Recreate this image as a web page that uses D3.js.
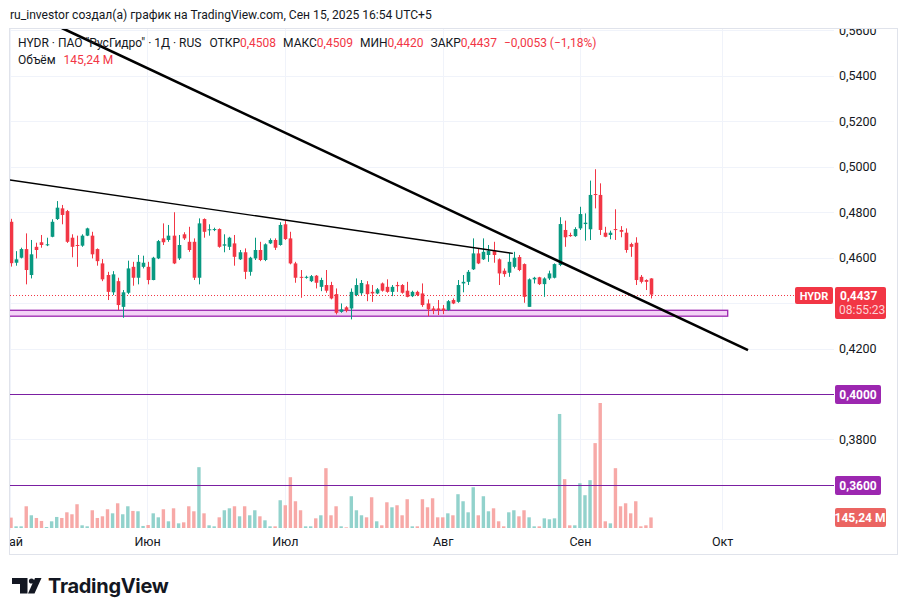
<!DOCTYPE html>
<html lang="ru">
<head>
<meta charset="UTF-8">
<title>HYDR · 1Д</title>
<script src="https://cdn.jsdelivr.net/npm/d3@7"></script>
<style>
    body { margin: 0; background: #fff; }
    svg text { font-family: Roboto, "Noto Sans", sans-serif; fill: #131722; }
</style>
</head>
<body>
<div id="chart"></div>
<script>
    // daily bars (oldest first)
    var opens = [0.4757,0.4577,0.4599,0.4637,0.4523,0.4647,0.4667,0.4657,0.4691,0.4769,
        0.4816,0.4804,0.4687,0.4655,0.4652,0.4696,0.4696,0.4637,0.4574,0.4523,
        0.4447,0.4496,0.4383,0.4445,0.4559,0.4511,0.4559,0.4559,0.4501,0.4596,
        0.4684,0.4677,0.4696,0.4596,0.4702,0.4669,0.4669,0.4511,0.4769,0.4723,
        0.4723,0.4725,0.4652,0.4647,0.4662,0.4592,0.4623,0.4537,0.4596,0.4633,
        0.4589,0.4662,0.4677,0.4655,0.4746,0.4684,0.4574,0.4515,0.4511,0.4496,
        0.4520,0.4471,0.4479,0.4479,0.4439,0.4361,0.4381,0.4376,0.4435,0.4443,
        0.4482,0.4449,0.4442,0.4486,0.4471,0.4449,0.4479,0.4479,0.4454,0.4430,
        0.4449,0.4442,0.4398,0.4376,0.4376,0.4376,0.4369,0.4413,0.4405,0.4486,
        0.4493,0.4548,0.4618,0.4592,0.4611,0.4630,0.4592,0.4542,0.4533,0.4559,
        0.4602,0.4571,0.4383,0.4504,0.4513,0.4483,0.4508,0.4511,0.4567,0.4721,
        0.4699,0.4694,0.4728,0.4747,0.4724,0.4879,0.4875,0.4709,0.4699,0.4725,
        0.4721,0.4709,0.4659,0.4665,0.4515,0.4501,0.4508];
    var highs = [0.4770,0.4628,0.4643,0.4706,0.4677,0.4665,0.4699,0.4687,0.4768,0.4848,
        0.4831,0.4809,0.4702,0.4696,0.4702,0.4731,0.4713,0.4640,0.4593,0.4537,
        0.4540,0.4511,0.4457,0.4586,0.4581,0.4611,0.4608,0.4581,0.4603,0.4677,
        0.4750,0.4743,0.4799,0.4699,0.4711,0.4735,0.4684,0.4772,0.4772,0.4746,
        0.4731,0.4728,0.4702,0.4691,0.4699,0.4633,0.4640,0.4603,0.4687,0.4669,
        0.4662,0.4684,0.4684,0.4755,0.4762,0.4713,0.4581,0.4545,0.4520,0.4523,
        0.4523,0.4511,0.4545,0.4493,0.4464,0.4398,0.4386,0.4464,0.4508,0.4501,
        0.4496,0.4479,0.4466,0.4490,0.4504,0.4479,0.4493,0.4483,0.4493,0.4454,
        0.4454,0.4486,0.4416,0.4386,0.4413,0.4391,0.4413,0.4420,0.4501,0.4523,
        0.4545,0.4684,0.4640,0.4684,0.4655,0.4669,0.4596,0.4552,0.4621,0.4625,
        0.4611,0.4574,0.4508,0.4515,0.4515,0.4513,0.4542,0.4574,0.4777,0.4762,
        0.4709,0.4733,0.4823,0.4794,0.4938,0.4988,0.4926,0.4735,0.4718,0.4812,
        0.4738,0.4728,0.4665,0.4689,0.4523,0.4504,0.4509];
    var lows = [0.4560,0.4564,0.4596,0.4482,0.4508,0.4596,0.4643,0.4650,0.4689,0.4765,
        0.4746,0.4664,0.4601,0.4559,0.4647,0.4694,0.4596,0.4564,0.4496,0.4413,
        0.4435,0.4369,0.4335,0.4439,0.4476,0.4482,0.4552,0.4482,0.4500,0.4593,
        0.4655,0.4669,0.4571,0.4589,0.4677,0.4625,0.4501,0.4482,0.4687,0.4696,
        0.4716,0.4643,0.4623,0.4633,0.4564,0.4589,0.4505,0.4520,0.4589,0.4584,
        0.4584,0.4659,0.4633,0.4652,0.4677,0.4570,0.4489,0.4423,0.4507,0.4492,
        0.4464,0.4452,0.4445,0.4416,0.4350,0.4357,0.4359,0.4328,0.4430,0.4435,
        0.4408,0.4405,0.4439,0.4450,0.4445,0.4430,0.4449,0.4441,0.4425,0.4426,
        0.4430,0.4383,0.4342,0.4351,0.4347,0.4351,0.4366,0.4395,0.4401,0.4447,
        0.4479,0.4545,0.4571,0.4589,0.4581,0.4577,0.4479,0.4515,0.4515,0.4552,
        0.4540,0.4401,0.4383,0.4486,0.4479,0.4427,0.4501,0.4508,0.4562,0.4647,
        0.4691,0.4691,0.4721,0.4674,0.4677,0.4816,0.4699,0.4689,0.4680,0.4677,
        0.4689,0.4621,0.4603,0.4479,0.4486,0.4457,0.4420];
    var closes = [0.4575,0.4592,0.4637,0.4545,0.4614,0.4633,0.4655,0.4658,0.4757,0.4819,
        0.4787,0.4669,0.4647,0.4652,0.4696,0.4728,0.4614,0.4584,0.4504,0.4449,
        0.4526,0.4391,0.4447,0.4552,0.4511,0.4581,0.4577,0.4501,0.4599,0.4672,
        0.4667,0.4696,0.4574,0.4655,0.4684,0.4633,0.4511,0.4750,0.4713,0.4724,
        0.4725,0.4647,0.4658,0.4687,0.4603,0.4623,0.4537,0.4599,0.4633,0.4589,
        0.4658,0.4677,0.4643,0.4743,0.4681,0.4574,0.4511,0.4511,0.4515,0.4518,
        0.4489,0.4501,0.4454,0.4420,0.4357,0.4372,0.4366,0.4449,0.4479,0.4488,
        0.4439,0.4442,0.4460,0.4454,0.4449,0.4471,0.4474,0.4445,0.4427,0.4449,
        0.4435,0.4391,0.4372,0.4366,0.4369,0.4366,0.4408,0.4398,0.4479,0.4493,
        0.4537,0.4618,0.4574,0.4625,0.4630,0.4611,0.4530,0.4527,0.4581,0.4599,
        0.4545,0.4427,0.4504,0.4511,0.4483,0.4508,0.4530,0.4571,0.4747,0.4689,
        0.4694,0.4725,0.4791,0.4753,0.4875,0.4875,0.4721,0.4691,0.4709,0.4721,
        0.4713,0.4633,0.4647,0.4501,0.4493,0.4493,0.4437];
    // volume, millions
    var volumes = [143,23,23,299,175,138,97,14,92,152,
        138,216,189,327,37,23,244,138,161,258,
        202,340,189,299,235,230,28,41,202,147,
        258,92,271,64,78,299,230,837,202,37,
        23,147,244,271,299,161,299,175,244,161,
        106,23,23,382,313,699,368,244,23,23,
        133,175,823,175,299,23,9,437,244,175,
        147,423,92,37,354,285,313,175,396,23,
        23,396,285,409,147,147,202,175,465,368,
        216,561,175,437,230,271,92,23,216,244,
        161,244,147,23,23,133,120,133,1569,672,
        37,37,616,451,658,1168,1720,92,64,823,
        299,340,202,368,23,37,145.24];

    var monthLabels = ["Май", "Июн", "Июл", "Авг", "Сен", "Окт"];
    var monthIndex = [-0.2, 26.8, 53.9, 85, 112, 140];
    var priceTicks = [0.56, 0.54, 0.52, 0.50, 0.48, 0.46, 0.42, 0.38];
    var gridPrices = [0.56, 0.54, 0.52, 0.50, 0.48, 0.46, 0.44, 0.42, 0.40, 0.38, 0.36];
    var levelPrices = [0.40, 0.36];
    var lastPrice = 0.4437;
    var lastVolume = 145.24;
    var thickTrend = [[10, 0.5609], [145.1, 0.4193]];
    var thinTrend = [[-0.2, 0.4941], [98.8, 0.4618]];
    var zoneBox = [[-1, 0.4368], [141.1, 0.4342]];

    var w = 908, h = 616;
    var pane = { left: 10, top: 29, right: 834, bottom: 530 };
    var green = "#089981", red = "#f23645";
    var purple = "#9c27b0";

    var x = d3.scaleLinear().domain([0, closes.length - 1]).range([11, 651]);
    var y = d3.scaleLinear().domain([0.36, 0.56]).range([485, 30]);
    var yVol = d3.scaleLinear().domain([0, 1720]).range([528, 403]);

    var fmt = function(v) { return d3.format(".4f")(v).replace(".", ","); };

    var svg = d3.select("#chart").append("svg")
        .attr("width", w)
        .attr("height", h);

    svg.append("rect").attr("width", w).attr("height", h).attr("fill", "#fff");

    var defs = svg.append("defs");
    defs.append("clipPath").attr("id", "paneClip")
        .append("rect")
        .attr("x", pane.left).attr("y", pane.top)
        .attr("width", pane.right - pane.left).attr("height", pane.bottom - pane.top);
    defs.append("clipPath").attr("id", "timeClip")
        .append("rect")
        .attr("x", pane.left).attr("y", pane.bottom)
        .attr("width", pane.right - pane.left).attr("height", 25);
    defs.append("clipPath").attr("id", "axisClip")
        .append("rect")
        .attr("x", pane.right).attr("y", pane.top)
        .attr("width", 64).attr("height", pane.bottom - pane.top);

    // header
    svg.append("text")
        .attr("x", 10).attr("y", 19)
        .style("font-size", "12.1px")
        .text("ru_investor создал(а) график на TradingView.com, Сен 15, 2025 16:54 UTC+5");

    // frame
    svg.append("rect")
        .attr("x", 9.5).attr("y", 28.5)
        .attr("width", 888).attr("height", 526)
        .attr("fill", "none")
        .attr("stroke", "#e0e3eb");

    var plot = svg.append("g").attr("clip-path", "url(#paneClip)");

    // grid
    plot.selectAll(".hgrid")
        .data(gridPrices)
        .enter().append("line")
        .attr("x1", pane.left).attr("x2", pane.right)
        .attr("y1", function(d) { return Math.round(y(d)) + 0.5; })
        .attr("y2", function(d) { return Math.round(y(d)) + 0.5; })
        .attr("stroke", "#f0f3fa");

    plot.selectAll(".vgrid")
        .data(monthIndex)
        .enter().append("line")
        .attr("x1", function(d) { return Math.round(x(d)) + 0.5; })
        .attr("x2", function(d) { return Math.round(x(d)) + 0.5; })
        .attr("y1", pane.top).attr("y2", pane.bottom)
        .attr("stroke", "#f0f3fa");

    // volume
    var volW = 3.4;
    plot.selectAll(".vol")
        .data(volumes)
        .enter().append("rect")
        .attr("x", function(d, i) { return x(i) - volW / 2; })
        .attr("y", function(d) { return yVol(d); })
        .attr("width", volW)
        .attr("height", function(d) { return yVol(0) - yVol(d); })
        .attr("fill", function(d, i) { return closes[i] >= opens[i] ? "#92d2cc" : "#f7a9a7"; });

    // levels
    plot.selectAll(".level")
        .data(levelPrices)
        .enter().append("line")
        .attr("x1", pane.left).attr("x2", pane.right)
        .attr("y1", function(d) { return Math.round(y(d)) + 0.5; })
        .attr("y2", function(d) { return Math.round(y(d)) + 0.5; })
        .attr("stroke", "#7b1fa2")
        .attr("stroke-width", 1);

    // zone rectangle
    plot.append("rect")
        .attr("x", x(zoneBox[0][0]))
        .attr("y", y(zoneBox[0][1]))
        .attr("width", x(zoneBox[1][0]) - x(zoneBox[0][0]))
        .attr("height", y(zoneBox[1][1]) - y(zoneBox[0][1]))
        .attr("fill", "#f3d3f6")
        .attr("stroke", purple)
        .attr("stroke-width", 1.3);

    // last price dotted line
    plot.append("line")
        .attr("x1", pane.left).attr("x2", 795)
        .attr("y1", Math.round(y(lastPrice)) + 0.5)
        .attr("y2", Math.round(y(lastPrice)) + 0.5)
        .attr("stroke", red)
        .attr("stroke-dasharray", "1,2");

    // candles
    var bodyW = 3.6;
    var candle = plot.selectAll(".candle")
        .data(closes)
        .enter().append("g");

    candle.append("line")
        .attr("x1", function(d, i) { return Math.round(x(i)) + 0.5; })
        .attr("x2", function(d, i) { return Math.round(x(i)) + 0.5; })
        .attr("y1", function(d, i) { return y(highs[i]); })
        .attr("y2", function(d, i) { return y(lows[i]); })
        .attr("stroke", function(d, i) { return d >= opens[i] ? green : red; });

    candle.append("rect")
        .attr("x", function(d, i) { return Math.round(x(i)) + 0.5 - bodyW / 2; })
        .attr("y", function(d, i) { return y(Math.max(d, opens[i])); })
        .attr("width", bodyW)
        .attr("height", function(d, i) { return Math.max(1, Math.abs(y(d) - y(opens[i]))); })
        .attr("fill", function(d, i) { return d >= opens[i] ? green : red; });

    // trend lines
    var trendLine = d3.line()
        .x(function(d) { return x(d[0]); })
        .y(function(d) { return y(d[1]); });

    plot.append("path")
        .datum(thinTrend)
        .attr("d", trendLine)
        .attr("fill", "none")
        .attr("stroke", "#000")
        .attr("stroke-width", 1.4);

    plot.append("path")
        .datum(thickTrend)
        .attr("d", trendLine)
        .attr("fill", "none")
        .attr("stroke", "#000")
        .attr("stroke-width", 2.6);

    // legend
    var legend = svg.append("text")
        .attr("x", 18).attr("y", 47)
        .style("font-size", "12px");
    var legendParts = [
        ["HYDR · ПАО \"РусГидро\" · 1Д · RUS", "#131722", 0], ["ОТКР", "#131722", 8], [fmt(opens[opens.length - 1]), red, 0],
        ["МАКС", "#131722", 7], [fmt(highs[highs.length - 1]), red, 0],
        ["МИН", "#131722", 7], [fmt(lows[lows.length - 1]), red, 0],
        ["ЗАКР", "#131722", 7], [fmt(lastPrice), red, 0],
        ["−0,0053 (−1,18%)", red, 7]
    ];
    legend.selectAll("tspan")
        .data(legendParts)
        .enter().append("tspan")
        .attr("dx", function(d) { return d[2]; })
        .style("fill", function(d) { return d[1]; })
        .text(function(d) { return d[0]; });

    var legend2 = svg.append("text")
        .attr("x", 18).attr("y", 64)
        .style("font-size", "12px");
    legend2.append("tspan").text("Объём");
    legend2.append("tspan").attr("dx", 8).style("fill", red).text("145,24 M");

    // price axis
    var yAxis = d3.axisRight(y)
        .tickValues(priceTicks)
        .tickSize(0)
        .tickPadding(5)
        .tickFormat(fmt);

    var yAxisG = svg.append("g")
        .attr("clip-path", "url(#axisClip)")
        .append("g")
        .attr("transform", "translate(" + pane.right + ",0)")
        .call(yAxis);
    yAxisG.select(".domain").remove();
    yAxisG.selectAll("text")
        .style("font-size", "12.5px")
        .style("font-family", "Roboto, sans-serif")
        .attr("fill", "#131722");

    // time axis
    var xAxis = d3.axisBottom(x)
        .tickValues(monthIndex)
        .tickSize(0)
        .tickPadding(7)
        .tickFormat(function(d, i) { return monthLabels[i]; });

    var xAxisG = svg.append("g")
        .attr("clip-path", "url(#timeClip)")
        .append("g")
        .attr("transform", "translate(0," + pane.bottom + ")")
        .call(xAxis);
    xAxisG.select(".domain").remove();
    xAxisG.selectAll("text")
        .style("font-size", "12.5px")
        .style("font-family", "Roboto, sans-serif")
        .attr("fill", "#131722");

    // level labels
    levelPrices.forEach(function(p) {
        svg.append("rect")
            .attr("x", 835).attr("y", Math.round(y(p)) - 9)
            .attr("width", 46).attr("height", 19).attr("rx", 2)
            .attr("fill", purple);
        svg.append("text")
            .attr("x", 858).attr("y", Math.round(y(p)) + 5)
            .attr("text-anchor", "middle")
            .style("font-size", "12px").style("font-weight", "bold")
            .style("fill", "#fff")
            .text(fmt(p));
    });

    // last price labels
    var ly = Math.round(y(lastPrice));
    svg.append("rect")
        .attr("x", 795).attr("y", ly - 8)
        .attr("width", 38).attr("height", 17).attr("rx", 2)
        .attr("fill", red);
    svg.append("text")
        .attr("x", 814).attr("y", ly + 4.5)
        .attr("text-anchor", "middle")
        .style("font-size", "11px").style("font-weight", "bold")
        .style("fill", "#fff")
        .text("HYDR");
    svg.append("rect")
        .attr("x", 835).attr("y", ly - 8)
        .attr("width", 51).attr("height", 32).attr("rx", 2)
        .attr("fill", red);
    svg.append("text")
        .attr("x", 840).attr("y", ly + 5)
        .style("font-size", "12px").style("font-weight", "bold")
        .style("fill", "#fff")
        .text(fmt(lastPrice));
    svg.append("text")
        .attr("x", 839).attr("y", ly + 19)
        .style("font-size", "12px")
        .style("fill", "#fcd3d7")
        .text("08:55:23");

    // last volume label
    var vy = Math.round(yVol(lastVolume));
    svg.append("rect")
        .attr("x", 835).attr("y", vy - 9)
        .attr("width", 51).attr("height", 19).attr("rx", 2)
        .attr("fill", "#eb6461");
    svg.append("text")
        .attr("x", 860).attr("y", vy + 5)
        .attr("text-anchor", "middle")
        .style("font-size", "12px").style("font-weight", "bold")
        .style("fill", "#fff")
        .text("145,24 M");

    // TradingView logo
    var logo = svg.append("g");
    logo.append("path")
        .attr("d", "M12,578 H27.5 V593.5 H20 V584 H12 Z")
        .attr("fill", "#131722");
    logo.append("circle")
        .attr("cx", 31.5).attr("cy", 581).attr("r", 2.6)
        .attr("fill", "#131722");
    logo.append("path")
        .attr("d", "M35,578 H41.5 L34.5,593.5 H28 Z")
        .attr("fill", "#131722");
    logo.append("text")
        .attr("x", 48).attr("y", 593)
        .style("font-family", "Inter, Roboto, sans-serif")
        .style("font-size", "20px").style("font-weight", "bold")
        .style("letter-spacing", "-0.3px")
        .style("fill", "#131722")
        .text("TradingView");
</script>
</body>
</html>
